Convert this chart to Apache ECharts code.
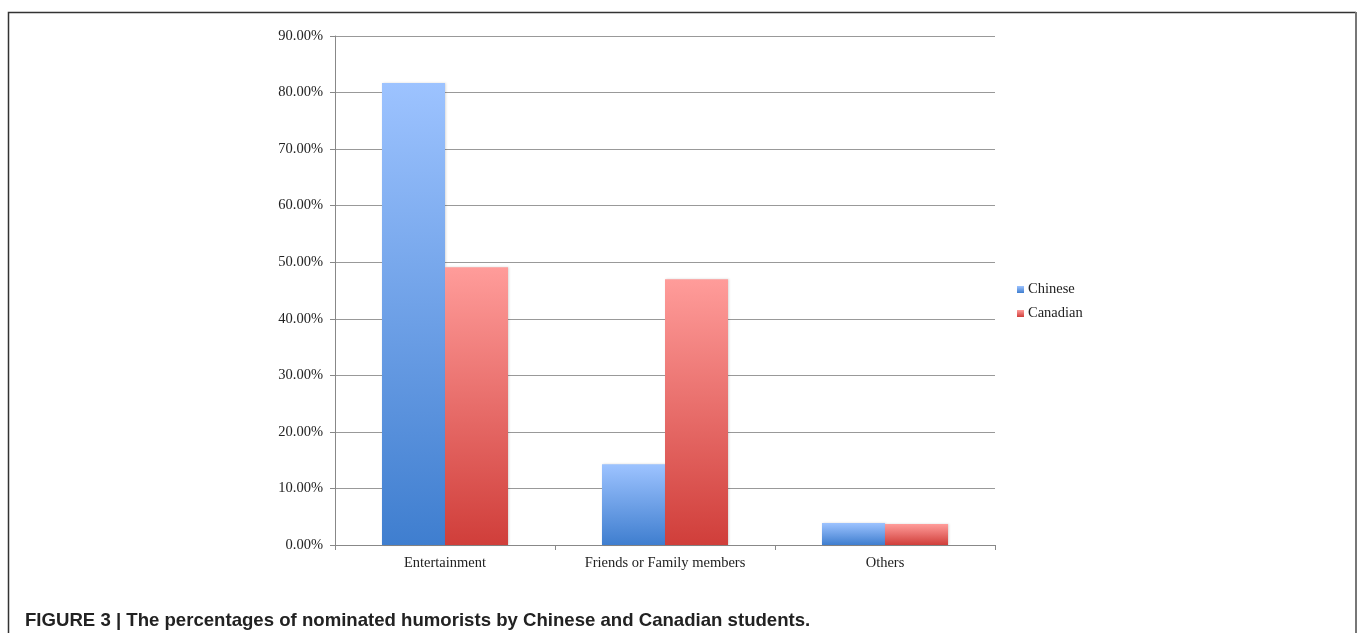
<!DOCTYPE html>
<html><head><meta charset="utf-8">
<script src="https://cdn.jsdelivr.net/npm/echarts@6/dist/echarts.min.js"></script>
<style>html,body{margin:0;padding:0;background:#fff}#c{width:1358px;height:633px}</style>
</head><body><div id="c"></div>
<script>
const categories = ['Entertainment', 'Friends or Family members', 'Others'];
const chinese = [81.7, 14.3, 3.9];
const canadian = [49.1, 47.0, 3.7];
const yTicks = [0, 10, 20, 30, 40, 50, 60, 70, 80, 90];
const caption = 'FIGURE 3 | The percentages of nominated humorists by Chinese and Canadian students.';

const chart = echarts.init(document.getElementById('c'));
const serif = 'Liberation Serif';
function grad(top, bottom) {
  return new echarts.graphic.LinearGradient(0, 0, 0, 1, [{offset: 0, color: top}, {offset: 1, color: bottom}]);
}
chart.setOption({
  animation: false,
  backgroundColor: '#fff',
  grid: {left: 335, right: 363, top: 36, bottom: 88},
  legend: {
    orient: 'vertical', left: 1012, top: 277, itemWidth: 7, itemHeight: 7, itemGap: 9,
    icon: 'rect',
    textStyle: {fontFamily: serif, fontSize: 14.5, color: '#222', padding: [0, 0, 0, -1]},
    data: ['Chinese', 'Canadian']
  },
  xAxis: {
    type: 'category', data: categories,
    axisLine: {lineStyle: {color: '#888', width: 1}},
    axisTick: {show: true, length: 5, lineStyle: {color: '#888'}},
    axisLabel: {fontFamily: serif, fontSize: 14.5, color: '#222', margin: 11}
  },
  yAxis: {
    type: 'value', min: 0, max: 90, interval: 10,
    axisLine: {show: true, lineStyle: {color: '#888'}},
    axisTick: {show: true, length: 5, lineStyle: {color: '#888'}},
    splitLine: {lineStyle: {color: '#999', width: 1}},
    axisLabel: {fontFamily: serif, fontSize: 14.5, color: '#222', margin: 12,
      formatter: v => yTicks.includes(v) ? v.toFixed(2) + '%' : ''}
  },
  series: [
    {name: 'Chinese', type: 'bar', data: chinese, barGap: '0%', barCategoryGap: '42.7%',
      itemStyle: {color: grad('#9DC3FF', '#3F7ECF'), shadowColor: 'rgba(0,0,0,0.15)', shadowBlur: 2, shadowOffsetX: 1}},
    {name: 'Canadian', type: 'bar', data: canadian, barGap: '0%', barCategoryGap: '42.7%',
      itemStyle: {color: grad('#FF9C9A', '#D03E3A'), shadowColor: 'rgba(0,0,0,0.15)', shadowBlur: 2, shadowOffsetX: 1}}
  ],
  graphic: [
    {type: 'polyline', shape: {points: [[8.5, 633], [8.5, 12.5], [1356, 12.5]]}, style: {stroke: '#333', lineWidth: 1.5, fill: null}},
    {type: 'line', shape: {x1: 1356, y1: 12, x2: 1356, y2: 633}, style: {stroke: '#777', lineWidth: 2}},
    {type: 'text', left: 25, top: 611, style: {text: caption, font: 'bold 18.6px "Liberation Sans"', fill: '#222'}}
  ]
});
</script></body></html>
